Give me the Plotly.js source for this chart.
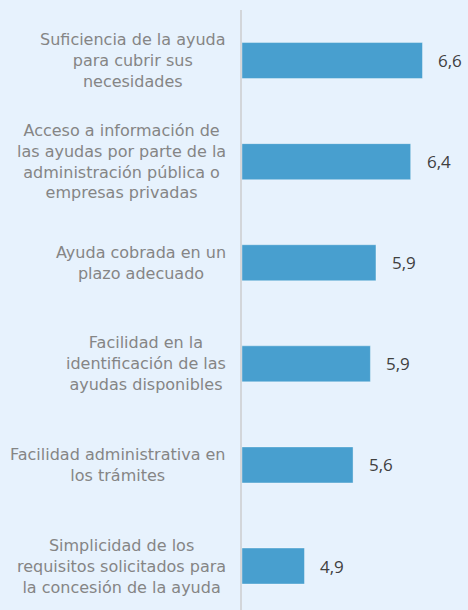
<!DOCTYPE html>
<html>
<head>
<meta charset="utf-8">
<script src="https://cdn.plot.ly/plotly-3.0.1.min.js"></script>
<style>html,body{margin:0;padding:0;background:#e7f2fd;}#chart{width:468px;height:610px;}</style>
</head>
<body>
<div id="chart"></div>
<script>
const categories = [
  "Suficiencia de la ayuda<br>para cubrir sus<br>necesidades",
  "Acceso a información de<br>las ayudas por parte de la<br>administración pública o<br>empresas privadas",
  "Ayuda cobrada en un<br>plazo adecuado",
  "Facilidad en la<br>identificación de las<br>ayudas disponibles",
  "Facilidad administrativa en<br>los trámites",
  "Simplicidad de los<br>requisitos solicitados para<br>la concesión de la ayuda"
];
const values = [6.60, 6.43, 5.93, 5.85, 5.60, 4.90];
const valueLabels = ["6,6", "6,4", "5,9", "5,9", "5,6", "4,9"];

const yIdx = categories.map((c, i) => i);

const trace = {
  type: 'bar',
  orientation: 'h',
  x: values.map(v => v - 4),
  y: yIdx,
  base: 4,
  width: 0.356,
  marker: {color: '#489fcf', line: {color: 'rgba(255,255,255,0.35)', width: 1}},
  hoverinfo: 'none'
};

const annotations = [];
categories.forEach((c, i) => {
  annotations.push({
    xref: 'paper', yref: 'y', x: 0, y: i,
    xanchor: 'right', yanchor: 'middle', xshift: -14,
    text: c, showarrow: false, align: 'center',
    font: {family: '"DejaVu Sans", sans-serif', size: 16, color: '#858585'}
  });
  annotations.push({
    xref: 'x', yref: 'y', x: values[i], y: i,
    xanchor: 'left', yanchor: 'middle', xshift: 14,
    text: valueLabels[i], showarrow: false,
    font: {family: '"Open Sans", sans-serif', size: 17, color: '#404040'}
  });
});

const layout = {
  width: 468, height: 610,
  margin: {l: 242, r: 0, t: 10, b: 0},
  paper_bgcolor: '#e7f2fd',
  plot_bgcolor: '#e7f2fd',
  showlegend: false,
  xaxis: {range: [4, 7.256], showgrid: false, zeroline: false, showticklabels: false, ticks: '', showline: false, fixedrange: true},
  yaxis: {range: [5.435, -0.5], showgrid: false, zeroline: false, showticklabels: false, ticks: '',
          showline: true, linecolor: '#d3d6da', linewidth: 2, fixedrange: true},
  annotations: annotations
};

Plotly.newPlot('chart', [trace], layout, {displayModeBar: false, staticPlot: true});
</script>
</body>
</html>
